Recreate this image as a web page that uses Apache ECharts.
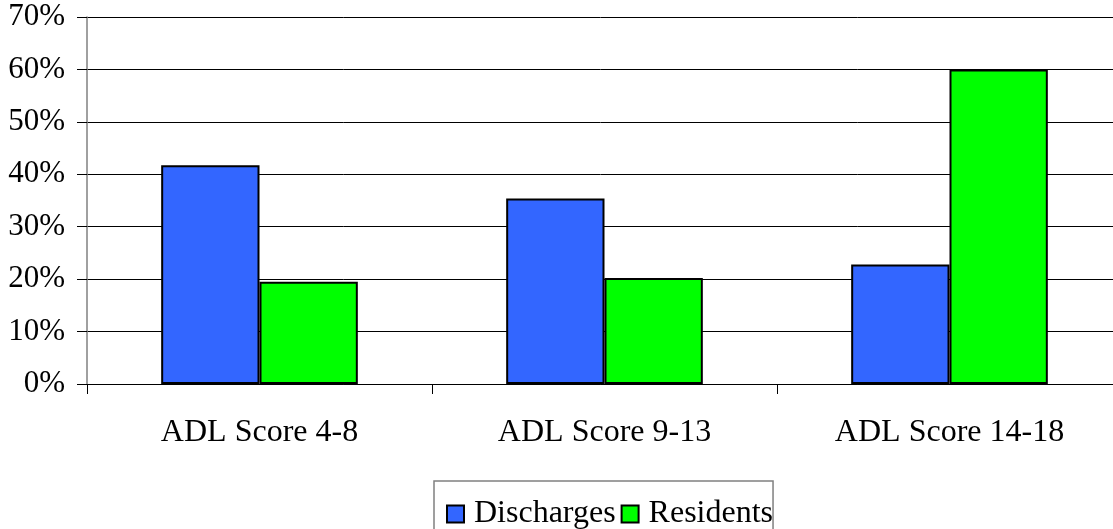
<!DOCTYPE html>
<html>
<head>
<meta charset="utf-8">
<script src="https://cdn.jsdelivr.net/npm/echarts@6/dist/echarts.min.js"></script>
<style>
  html, body { margin: 0; padding: 0; background: #fff; overflow: hidden; }
  #chart { width: 1113px; height: 529px; }
</style>
</head>
<body>
<div id="chart"></div>
<script>
// ADL score groups and share of each population (percent)
const categories = ['ADL Score 4-8', 'ADL Score 9-13', 'ADL Score 14-18'];
const discharges = [41.7, 35.4, 22.8];
const residents = [19.5, 20.2, 60.0];
const seriesNames = ['Discharges', 'Residents'];

const font = '"Liberation Serif", "Times New Roman", serif';

const chart = echarts.init(document.getElementById('chart'), null, { renderer: 'canvas' });
chart.setOption({
  animation: false,
  backgroundColor: '#ffffff',
  // plot runs slightly past the right edge of the canvas
  grid: { left: 87, width: 1035, top: 17, bottom: 145, containLabel: false, outerBoundsMode: 'none' },
  legend: {
    data: seriesNames,
    left: 434,
    top: 481,
    orient: 'horizontal',
    icon: 'rect',
    itemWidth: 17,
    itemHeight: 17,
    itemGap: 5,
    padding: [17, 0, 30, 12],
    borderColor: '#808080',
    borderWidth: 1.5,
    textStyle: { fontFamily: font, fontSize: 32, color: '#000', lineHeight: 17, padding: [0, 0, 0, 5] }
  },
  xAxis: {
    type: 'category',
    data: categories,
    axisLine: { show: true, lineStyle: { color: '#000', width: 1 } },
    axisTick: { show: true, length: 10, lineStyle: { color: '#000', width: 1 } },
    axisLabel: { fontFamily: font, fontSize: 32, color: '#000', margin: 33 },
    splitLine: { show: false }
  },
  yAxis: {
    type: 'value',
    min: 0,
    max: 70,
    interval: 10,
    axisLine: { show: true, lineStyle: { color: '#808080', width: 1.5 } },
    axisTick: { show: true, length: 10, lineStyle: { color: '#000', width: 1 } },
    axisLabel: { fontFamily: font, fontSize: 31, color: '#000', margin: 22, formatter: '{value}%' },
    splitLine: { show: true, lineStyle: { color: '#000', width: 1 } }
  },
  series: [
    {
      name: seriesNames[0],
      type: 'bar',
      data: discharges,
      barCategoryGap: '43%',
      barGap: '0%',
      itemStyle: { color: '#3366ff', borderColor: '#000', borderWidth: 2 }
    },
    {
      name: seriesNames[1],
      type: 'bar',
      data: residents,
      barCategoryGap: '43%',
      barGap: '0%',
      itemStyle: { color: '#00ff00', borderColor: '#000', borderWidth: 2 }
    }
  ]
});
</script>
</body>
</html>
